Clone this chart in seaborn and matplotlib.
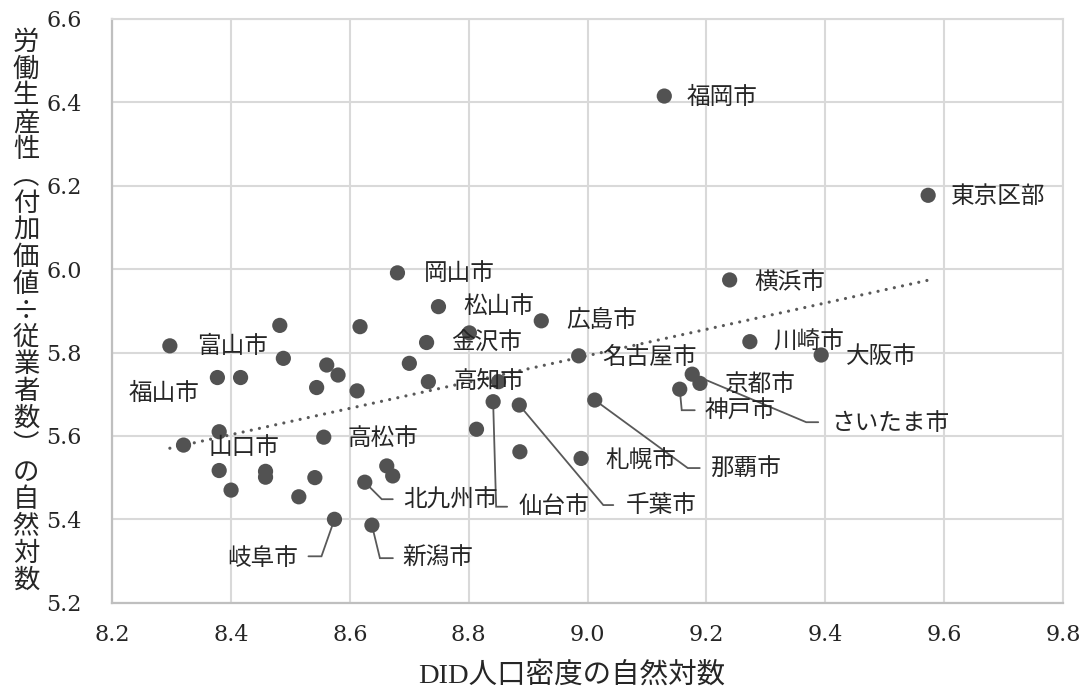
import matplotlib.pyplot as plt
import seaborn as sns
import pandas as pd

# data (log DID population density vs log labour productivity)
cities = ['福岡市', '東京区部', '横浜市', '岡山市', '松山市', '広島市', '', '金沢市',
          '', '高知市', '', '名古屋市', '川崎市', '大阪市', 'さいたま市', '京都市',
          '神戸市', '那覇市', '千葉市', '仙台市', '', '', '札幌市', '富山市',
          '', '', '福山市', '', '', '', '', '',
          '山口市', '高松市', '', '', '', '', '', '',
          '岐阜市', '新潟市', '北九州市', '', '', '', '']
density = [9.129, 9.573, 9.239, 8.680, 8.749, 8.922, 8.801, 8.729,
           8.700, 8.732, 8.850, 8.985, 9.273, 9.393, 9.176, 9.189,
           9.155, 9.012, 8.885, 8.841, 8.813, 8.886, 8.989, 8.297,
           8.482, 8.488, 8.377, 8.416, 8.561, 8.580, 8.544, 8.380,
           8.320, 8.556, 8.380, 8.458, 8.458, 8.400, 8.541, 8.514,
           8.574, 8.637, 8.625, 8.662, 8.672, 8.617, 8.612]
productivity = [6.415, 6.177, 5.974, 5.991, 5.910, 5.876, 5.847, 5.824,
                5.774, 5.730, 5.730, 5.792, 5.826, 5.794, 5.748, 5.726,
                5.712, 5.686, 5.674, 5.682, 5.616, 5.562, 5.546, 5.816,
                5.865, 5.786, 5.740, 5.740, 5.770, 5.746, 5.716, 5.610,
                5.578, 5.597, 5.517, 5.515, 5.501, 5.470, 5.500, 5.454,
                5.400, 5.386, 5.489, 5.528, 5.504, 5.862, 5.708]

xticks = [8.2, 8.4, 8.6, 8.8, 9.0, 9.2, 9.4, 9.6, 9.8]
yticks = [5.2, 5.4, 5.6, 5.8, 6.0, 6.2, 6.4, 6.6]

# label placement in output pixels (dx right, dy down) relative to the point
plain_labels = {
    '福岡市': (22, 1), '東京区部': (23, 1), '横浜市': (25, 2), '岡山市': (26, 1),
    '松山市': (25, 0), '広島市': (25, 0), '金沢市': (25, 0), '高知市': (25, 0),
    '名古屋市': (24, 2), '川崎市': (23, 1), '大阪市': (25, 1), '京都市': (25, 2),
    '札幌市': (24, 2), '高松市': (24, 1), '山口市': (25, 2), '富山市': (27, 1),
    '福山市': (-18, 16),
}
# elbow, end of leader, label anchor
leader_labels = {
    'さいたま市': ((114, 48), (126, 48), (139, 49)),
    '神戸市': ((2, 21), (15, 21), (25, 22)),
    '那覇市': ((93, 68), (105, 68), (115, 68)),
    '千葉市': ((84, 100), (94, 100), (106, 100)),
    '仙台市': ((3, 105), (14, 105), (25, 105)),
    '北九州市': ((17, 17), (28, 17), (38, 18)),
    '岐阜市': ((-13, 37), (-26, 37), (-36, 39)),
    '新潟市': ((8, 33), (21, 33), (30, 33)),
}

ylabel = '労働生産性︵付加価値÷従業者数︶の自然対数'
xlabel = 'DID人口密度の自然対数'

df = pd.DataFrame({'city': cities, 'density': density, 'productivity': productivity})

sns.set_style('white')
plt.rcParams['font.family'] = ['Noto Sans CJK JP', 'DejaVu Sans']

dot_color = '#525252'
line_color = '#595959'
text_color = '#262626'

fig = plt.figure(figsize=(10.8, 6.9), dpi=100)
ax = fig.add_axes([0.1039, 0.1265, 0.8804, 0.8461])

sns.regplot(data=df, x='density', y='productivity', scatter=False, ci=None,
            truncate=True, ax=ax,
            line_kws=dict(color=line_color, lw=2.3, linestyle=(0, (0.01, 2.6)),
                          dash_capstyle='round', zorder=2))
sns.scatterplot(data=df, x='density', y='productivity', ax=ax, s=120,
                color=dot_color, edgecolor='none', zorder=4)

ax.set_xlim(8.2, 9.8)
ax.set_ylim(5.2, 6.6)
ax.set_xticks(xticks)
ax.set_yticks(yticks)
ax.set_xticklabels([f'{v:.1f}' for v in xticks], fontfamily='DejaVu Serif', fontsize=16,
                   color=text_color)
ax.set_yticklabels([f'{v:.1f}' for v in yticks], fontfamily='DejaVu Serif', fontsize=16,
                   color=text_color)
ax.tick_params(axis='x', direction='out', length=6, width=1.4, color='#bfbfbf', pad=9)
ax.tick_params(axis='y', direction='out', length=6, width=1.4, color='#bfbfbf', pad=16)
ax.set_xlabel('')
ax.set_ylabel('')
ax.grid(True, color='#d9d9d9', lw=1.5, zorder=0)
ax.set_axisbelow(True)
for side in ['left', 'bottom']:
    ax.spines[side].set_color('#bfbfbf')
    ax.spines[side].set_linewidth(1.6)
for side in ['top', 'right']:
    ax.spines[side].set_color('#d9d9d9')
    ax.spines[side].set_linewidth(1.5)


def shifted(x, y, dx, dy):
    X, Y = ax.transData.transform((x, y))
    return ax.transData.inverted().transform((X + dx, Y - dy))


for name, (dx, dy) in plain_labels.items():
    row = df[df.city == name].iloc[0]
    ax.annotate(name, (row.density, row.productivity), xytext=(dx * 0.72, -dy * 0.72),
                textcoords='offset points', ha='left' if dx > 0 else 'right',
                va='center', fontsize=17, color=text_color, zorder=6)

for name, (elbow, end, lab) in leader_labels.items():
    row = df[df.city == name].iloc[0]
    p0 = (row.density, row.productivity)
    p1 = shifted(*p0, *elbow)
    p2 = shifted(*p0, *end)
    ax.plot([p0[0], p1[0], p2[0]], [p0[1], p1[1], p2[1]], color=line_color,
            lw=1.3, zorder=3, solid_joinstyle='miter')
    ax.annotate(name, p0, xytext=(lab[0] * 0.72, -lab[1] * 0.72),
                textcoords='offset points', ha='left' if lab[0] > 0 else 'right',
                va='center', fontsize=17, color=text_color, zorder=6)

# vertical y-axis title, one character per line
step = 26.9
for i, ch in enumerate(ylabel):
    fig.text(26 / 1080, 1 - (42 + i * step) / 690, ch, ha='center', va='center',
             fontsize=19, color=text_color)

fig.text(572 / 1080, 1 - 675 / 690, xlabel, ha='center', va='center', fontsize=20.5,
         color=text_color, family=['Liberation Serif', 'Noto Sans CJK JP'])

fig.savefig('out.png', dpi=100)
